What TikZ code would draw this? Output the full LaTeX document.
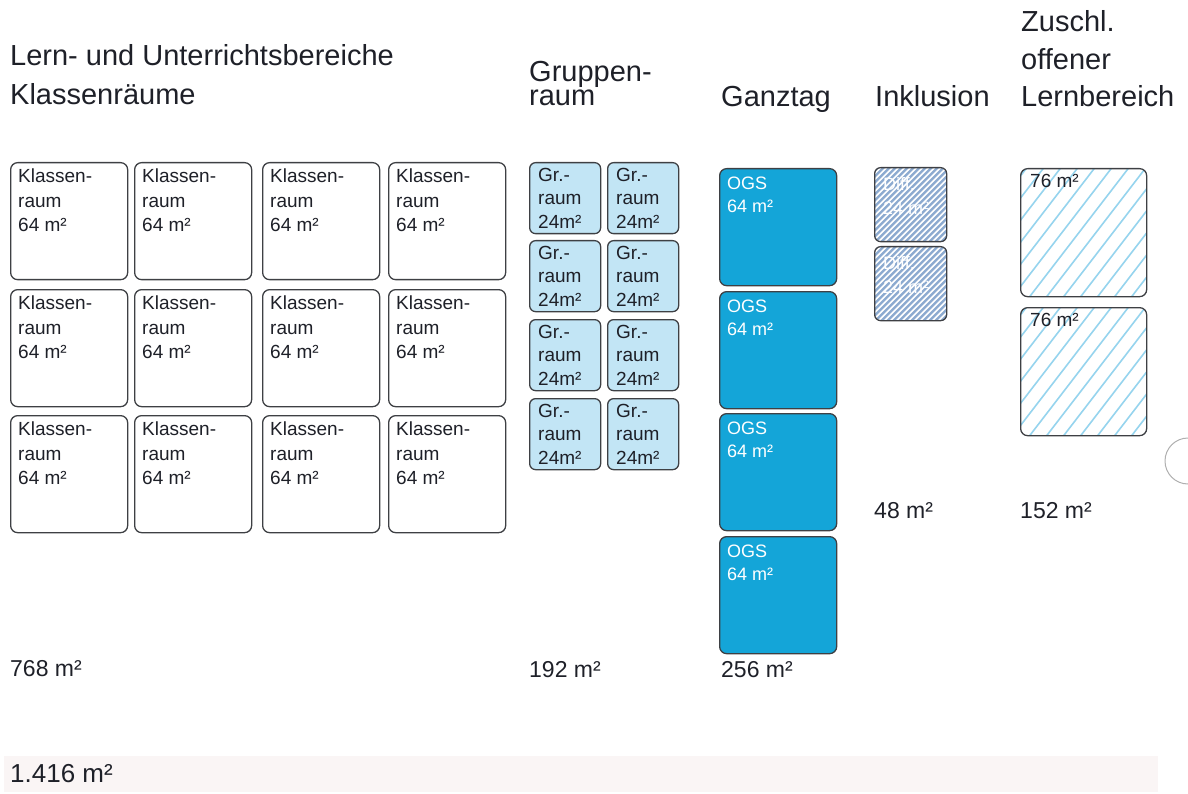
\documentclass[tikz,border=0pt]{standalone}
\usepackage{fontspec}
\setmainfont{Liberation Sans}
\usetikzlibrary{calc}
\definecolor{ink}{RGB}{30,32,40}
\definecolor{edge}{RGB}{62,64,68}
\definecolor{grfill}{RGB}{194,229,245}
\definecolor{ogsfill}{RGB}{20,165,216}
\definecolor{difffill}{RGB}{140,170,208}
\definecolor{hatch}{RGB}{150,212,238}
\definecolor{band}{RGB}{250,245,245}
\definecolor{punch}{RGB}{175,175,175}
\tikzset{
  room/.style={draw=edge, line width=1.3pt, rounded corners=7pt, anchor=north west, inner sep=0pt},
  classroom/.style={room, fill=white, minimum width=117pt, minimum height=117pt},
  grroom/.style={room, fill=grfill, rounded corners=6pt, minimum width=71pt, minimum height=71pt},
  ogsroom/.style={room, fill=ogsfill, minimum width=117pt, minimum height=117pt},
  diffroom/.style={room, fill=difffill, rounded corners=6pt, minimum width=72pt, minimum height=74pt,
    path picture={\foreach \k in {0,...,26}{
      \draw[white, line width=1.6pt] ($(path picture bounding box.south west)+({-80pt+\k*6pt},0pt)$) -- ++(100pt,100pt);}}},
  openroom/.style={room, fill=white, minimum width=126pt, minimum height=128pt,
    path picture={\foreach \k in {0,...,15}{
      \draw[hatch, line width=1.6pt] ($(path picture bounding box.south west)+({-110pt+\k*17pt},0pt)$) -- ++(100pt,130pt);}}},
  boxtext/.style={anchor=north west, inner sep=0pt, align=left, text=ink, font=\fontsize{19}{24.5}\selectfont},
  grtext/.style={boxtext, font=\fontsize{19}{23.5}\selectfont},
  ogstext/.style={boxtext, text=white, font=\fontsize{18}{23}\selectfont},
  difftext/.style={boxtext, text=white, font=\fontsize{18}{24}\selectfont},
  head/.style={anchor=base west, inner sep=0pt, text=ink, font=\fontsize{29}{37.5}\selectfont},
  total/.style={anchor=base west, inner sep=0pt, text=ink, font=\fontsize{23}{27}\selectfont},
}
\begin{document}
\begin{tikzpicture}[x=1pt, y=-1pt]
\useasboundingbox (0,0) rectangle (1188,794);

% column headings
\node[head] (h1) at (10,66) {Lern- und Unterrichtsbereiche};
\node[head] (h2) at (10,105) {Klassenräume};
\node[head] (h3) at (529,82) {Gruppen-};
\node[head] (h4) at (529,106) {raum};
\node[head] (h5) at (721,107) {Ganztag};
\node[head] (h6) at (875,107) {Inklusion};
\node[head] (h7) at (1021,32) {Zuschl.};
\node[head] (h8) at (1021,70) {offener};
\node[head] (h9) at (1021,107) {Lernbereich};

% classrooms, 4 columns x 3 rows
\foreach \c/\x in {1/10,2/134,3/262,4/388}{
  \foreach \r/\y in {1/162,2/289,3/415}{
    \node[classroom] (k\r\c) at (\x,\y) {};
    \node[boxtext] (kt\r\c) at ($(k\r\c.north west)+(8pt,-7pt)$) {Klassen-\\raum\\64 m²};
  }
}

% group rooms, 2 columns x 4 rows
\foreach \c/\x in {1/529,2/607}{
  \foreach \r/\y in {1/162,2/240,3/319,4/398}{
    \node[grroom] (g\r\c) at (\x,\y) {};
    \node[grtext] (gt\r\c) at ($(g\r\c.north west)+(9pt,-6pt)$) {Gr.-\\raum\\24m²};
  }
}

% all-day care rooms
\foreach \r/\y in {1/168,2/291,3/413,4/536}{
  \node[ogsroom] (o\r) at (719,\y) {};
  \node[ogstext] (ot\r) at ($(o\r.north west)+(8pt,-9pt)$) {OGS\\64 m²};
}

% inclusion rooms
\foreach \r/\y in {1/167,2/246}{
  \node[diffroom] (d\r) at (874,\y) {};
  \node[difftext] (dt\r) at ($(d\r.north west)+(9pt,-10pt)$) {Diff.\\24 m²};
}

% open learning areas
\foreach \r/\y in {1/168,2/307}{
  \node[openroom] (l\r) at (1020,\y) {};
  \node[boxtext] (lt\r) at ($(l\r.north west)+(10pt,-6pt)$) {76 m²};
}

% subtotals
\node[total] (s1) at (10,676) {768 m²};
\node[total] (s2) at (529,677) {192 m²};
\node[total] (s3) at (721,677) {256 m²};
\node[total] (s4) at (874,518) {48 m²};
\node[total] (s5) at (1020,518) {152 m²};

% grand total band
\fill[band] (4,756) rectangle (1158,792);
\node[total, font=\fontsize{26}{30}\selectfont] (sum) at (10,782) {1.416 m²};

% punch hole at the right edge
\begin{scope}
  \clip (0,0) rectangle (1188,794);
  \draw[punch, line width=1pt] (1188,461) circle[radius=23pt];
\end{scope}
\end{tikzpicture}
\end{document}
